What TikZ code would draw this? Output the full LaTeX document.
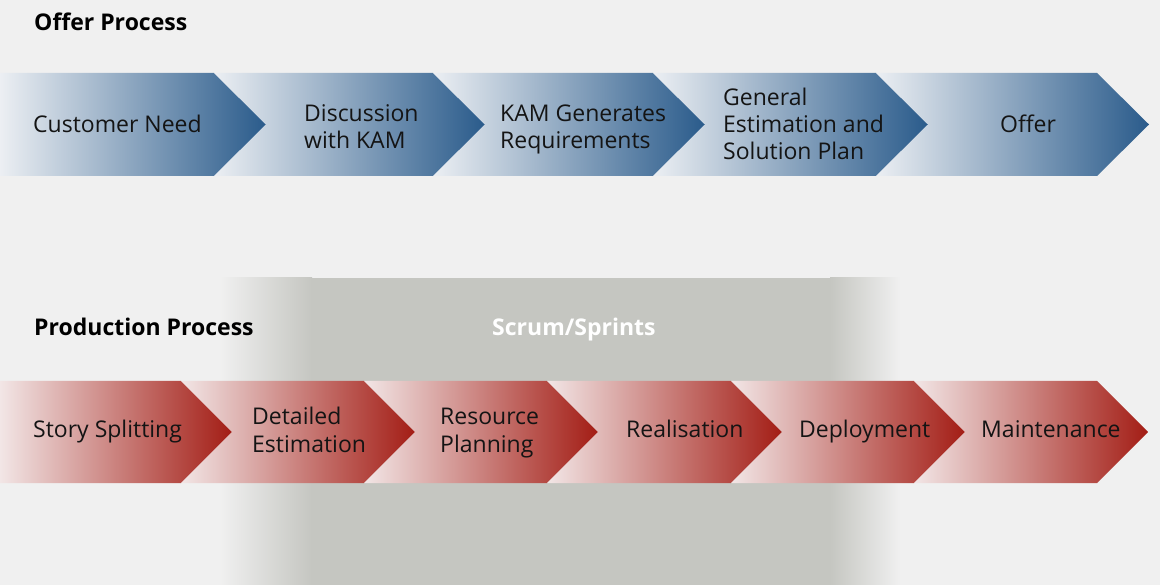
\documentclass[tikz,border=0pt]{standalone}
\usepackage{fontspec}
\setmainfont{Open Sans}
\definecolor{bgcol}{HTML}{F0F0F0}
\definecolor{bluelight}{HTML}{ECEFF3}
\definecolor{bluemid}{HTML}{7F9EBB}
\definecolor{bluedark}{HTML}{2A5B8B}
\definecolor{redlight}{HTML}{F2E6E6}
\definecolor{redmid}{HTML}{C46E68}
\definecolor{reddark}{HTML}{A31D15}
\definecolor{scrumgray}{HTML}{C5C6C1}
\definecolor{txtcol}{HTML}{141414}
\tikzset{
	bluestep/.style={left color=bluelight, middle color=bluemid, right color=bluedark},
	redstep/.style={left color=redlight, middle color=redmid, right color=reddark},
	steplabel/.style={anchor=base west, inner sep=0pt, align=left, text=txtcol, font=\fontsize{23}{27.3}\selectfont},
	heading/.style={anchor=base west, inner sep=0pt, font=\bfseries\fontsize{23}{27}\selectfont}
}
\begin{document}
\begin{tikzpicture}[x=1pt,y=-1pt,line join=round]
			\fill[bgcol] (0,0) rectangle (1160,585);
			\useasboundingbox (0,0) rectangle (1160,585);
			% scrum band
			\shade[left color=bgcol, right color=scrumgray] (220,278) rectangle (312,585);
			\fill[scrumgray] (311,278) rectangle (831,585);
			\shade[left color=scrumgray, right color=bgcol] (830,278) rectangle (900,585);
			% offer row (y = baseline of last line)
			\foreach \a/\b/\n/\tx/\ty/\lab [count=\i] in {0/214/0/33/133/{Customer Need},
					214/433/52/304/149/{Discussion\\with KAM},
					433/653/52/500/149/{KAM Generates\\Requirements},
					653/876/52/723/160/{General\\Estimation and\\Solution Plan},
					876/1097/52/1000/133/{Offer}}{
				\shade[bluestep] (\a,73)--(\b,73)--(\b+52,124.5)--(\b,176)--(\a,176)--(\a+\n,124.5)--cycle;
				\node[steplabel] (offer\i) at (\tx,\ty) {\lab};
			}
			% production row
			\foreach \a/\b/\n/\tx/\ty/\lab [count=\i] in {0/181/0/33/438/{Story Splitting},
					181/364/51/252/452/{Detailed\\Estimation},
					364/547/51/440/452/{Resource\\Planning},
					547/731/51/626/438/{Realisation},
					731/914/51/799/438/{Deployment},
					914/1097/51/981/438/{Maintenance}}{
				\shade[redstep] (\a,381)--(\b,381)--(\b+51,432)--(\b,483)--(\a,483)--(\a+\n,432)--cycle;
				\node[steplabel] (prod\i) at (\tx,\ty) {\lab};
			}
			% headings
			\node[heading] (offerhead) at (34,31) {Offer Process};
			\node[heading] (prodhead) at (34,336) {Production Process};
			\node[heading, text=white] (scrumhead) at (492,336) {Scrum/Sprints};
		\end{tikzpicture}
\end{document}
